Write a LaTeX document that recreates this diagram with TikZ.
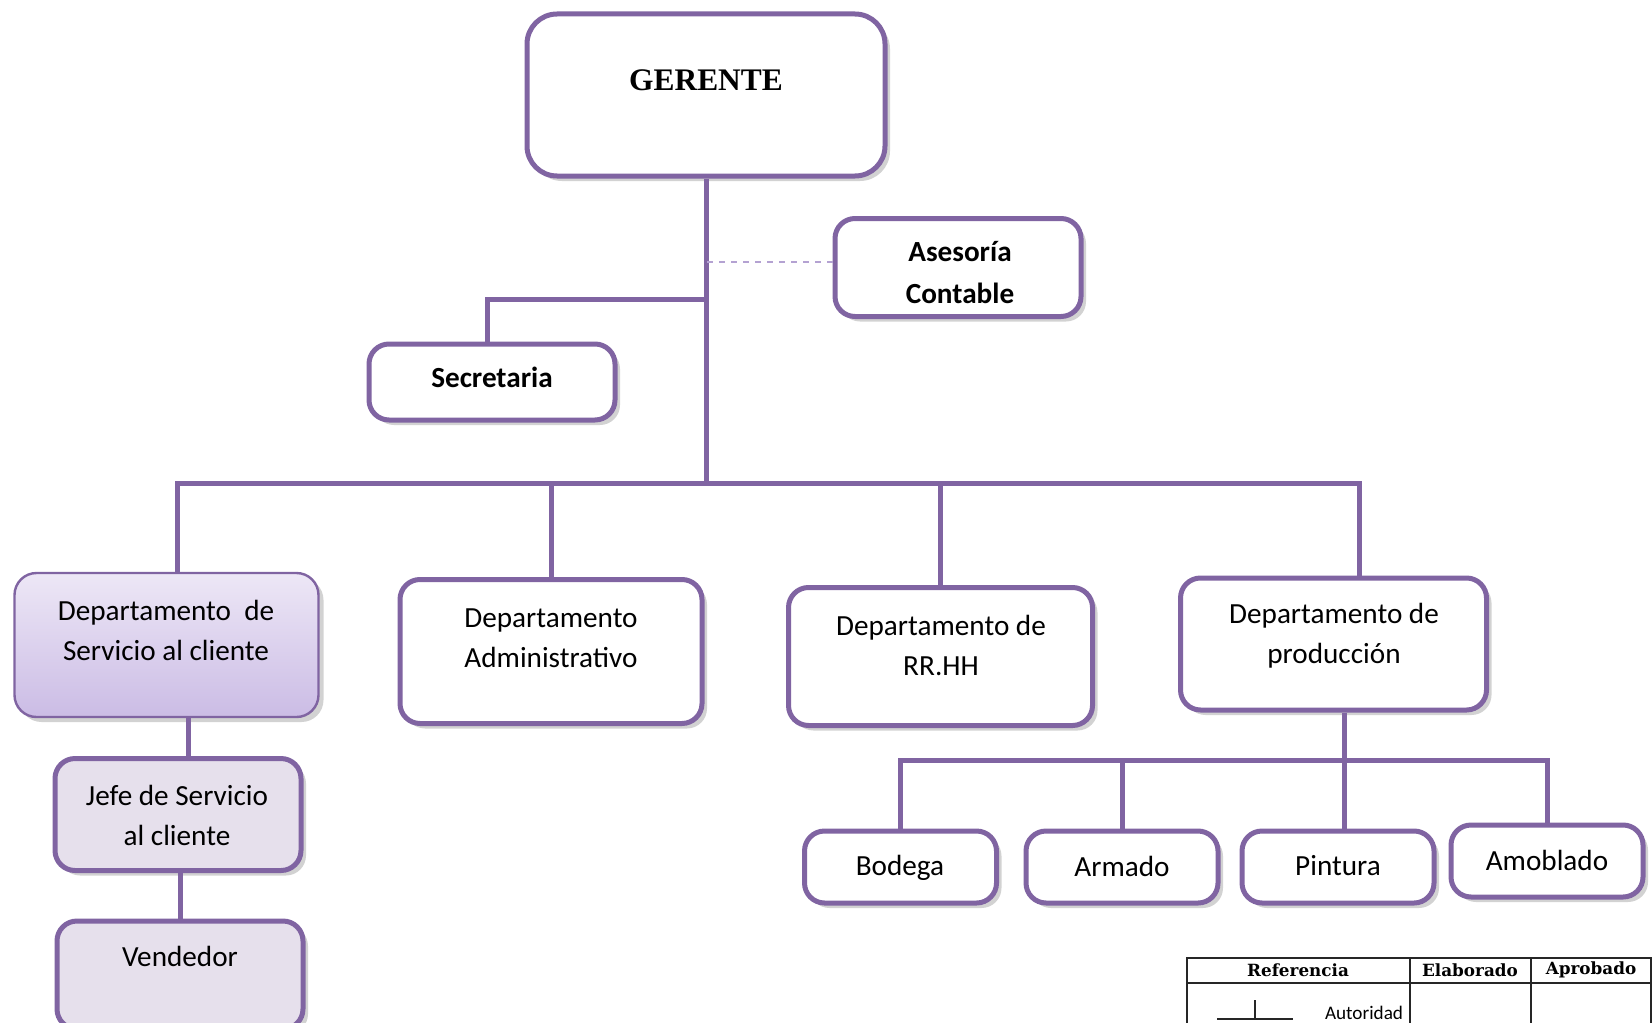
\documentclass[tikz,border=0pt]{standalone}
\usepackage{fontspec}
\setmainfont{Carlito}
\newfontfamily\gerfont{Liberation Serif}
\newfontfamily\tabfont{DejaVu Serif}
\usepackage{xcolor}
\usetikzlibrary{shadows}
\definecolor{morado}{RGB}{128,100,162}
\definecolor{lila}{RGB}{230,224,236}
\definecolor{lilaclaro}{RGB}{237,231,246}
\definecolor{lilaoscuro}{RGB}{203,188,229}
\definecolor{guion}{RGB}{180,162,210}

\begin{document}
\begin{tikzpicture}[
    x=0.5pt, y=-0.5pt,
    box/.style={rectangle, draw=morado, line width=2.5pt, rounded corners=10pt, fill=white, drop shadow={shadow xshift=2.5pt, shadow yshift=-2.5pt, opacity=0.35}},
    txt/.style={align=center, font=\fontsize{14.6}{20}\selectfont},
    titulo/.style={align=center, font=\fontsize{14.6}{21}\selectfont\bfseries},
    conn/.style={draw=morado, line width=2.5pt},
    dashline/.style={draw=guion, line width=1pt, dashed},
    tabla/.style={draw=black!85, line width=0.6pt},
    cabecera/.style={font=\tabfont\bfseries\fontsize{8.4}{10}\selectfont}
]
\path[use as bounding box, fill=white] (0,0) rectangle (1652,1022);
\clip (0,0) rectangle (1652,1022);

\node[box, rounded corners=15pt, minimum width=179pt, minimum height=81pt] (ger) at (706,95) {};
\node[font=\gerfont\bfseries\fontsize{15.7}{18}\selectfont] (gerT) at (706,80) {GERENTE};

\node[box, minimum width=123pt, minimum height=49pt] (ase) at (958,267.5) {};
\node[titulo] (aseT) at (960,273) {Asesoría\\Contable};

\node[box, minimum width=123pt, minimum height=38pt] (sec) at (492,382) {};
\node[titulo] (secT) at (492,377) {Secretaria};

\node[box, line width=1.2pt, rounded corners=11pt, top color=lilaclaro, bottom color=lilaoscuro, minimum width=152pt, minimum height=72pt] (serv) at (166.5,645) {};
\node[txt] (servT) at (166,630) {Departamento~ de\\Servicio al cliente};

\node[box, minimum width=151pt, minimum height=72pt] (adm) at (551,651.5) {};
\node[txt] (admT) at (551,638) {Departamento\\Administrativo};

\node[box, minimum width=152pt, minimum height=69pt] (rrhh) at (940.5,656.5) {};
\node[txt] (rrhhT) at (941,645) {Departamento de\\RR.HH};

\node[box, minimum width=153pt, minimum height=66pt] (prod) at (1333.5,644) {};
\node[txt] (prodT) at (1334,636) {Departamento de\\producción};

\node[box, minimum width=96pt, minimum height=36pt] (bod) at (900.5,867) {};
\node[txt] (bodT) at (900,868) {Bodega};
\node[box, minimum width=96pt, minimum height=36pt] (arm) at (1122,867) {};
\node[txt] (armT) at (1122,866) {Armado};
\node[box, minimum width=96pt, minimum height=36pt] (pint) at (1338,867) {};
\node[txt] (pintT) at (1338,866) {Pintura};
\node[box, minimum width=96pt, minimum height=36pt] (amo) at (1547,861) {};
\node[txt] (amoT) at (1547,860) {Amoblado};

\node[box, fill=lila, minimum width=123pt, minimum height=56pt] (jefe) at (178,814.5) {};
\node[txt] (jefeT) at (177,815) {Jefe de Servicio\\al cliente};

\node[box, fill=lila, minimum width=123pt, minimum height=54pt] (vend) at (180,975) {};
\node[txt] (vendT) at (180,956) {Vendedor};

\coordinate (sechub) at (706,299);
\coordinate (bus) at (706,483);
\coordinate (pbus) at (1344,760);

\draw[conn] (ger.south) -- (bus);
\draw[conn] (sechub) -| ([xshift=-2.5pt]sec.north);
\draw[dashline] ([yshift=2.75pt]ase.west) -- ([yshift=2.75pt]ase.west -| ger.south);
\draw[conn] ([xshift=5.25pt]serv.north) |- (bus) -| ([xshift=12.75pt]prod.north);
\draw[conn] (adm.north) -- (adm.north |- bus);
\draw[conn] (rrhh.north) -- (rrhh.north |- bus);
\draw[conn] ([xshift=5pt]jefe.north) -- ([xshift=5pt]jefe.north |- serv.south);
\draw[conn] (vend.north) -- (vend.north |- jefe.south);
\draw[conn] ([xshift=5.25pt]prod.south) -- ([xshift=5.25pt]prod.south |- pint.north);
\draw[conn] (bod.north) |- (pbus) -| (amo.north);
\draw[conn] (arm.north) -- (arm.north |- pbus);

\draw[tabla] (1187,958) rectangle (1651,1040);
\draw[tabla] (1187,983) -- (1651,983);
\draw[tabla] (1410,958) -- (1410,1040);
\draw[tabla] (1531,958) -- (1531,1040);
\node[cabecera] (ref) at (1298,970) {Referencia};
\node[cabecera] (elab) at (1470,970) {Elaborado};
\node[cabecera] (apro) at (1591,970) {Aprobado};
\draw[tabla] (1217,1019) -- (1293,1019);
\draw[tabla] (1255,1000) -- (1255,1019);
\node[font=\fontsize{9.6}{11}\selectfont, anchor=north, inner sep=1pt] (aut) at (1364,1004) {Autoridad};
\end{tikzpicture}
\end{document}
